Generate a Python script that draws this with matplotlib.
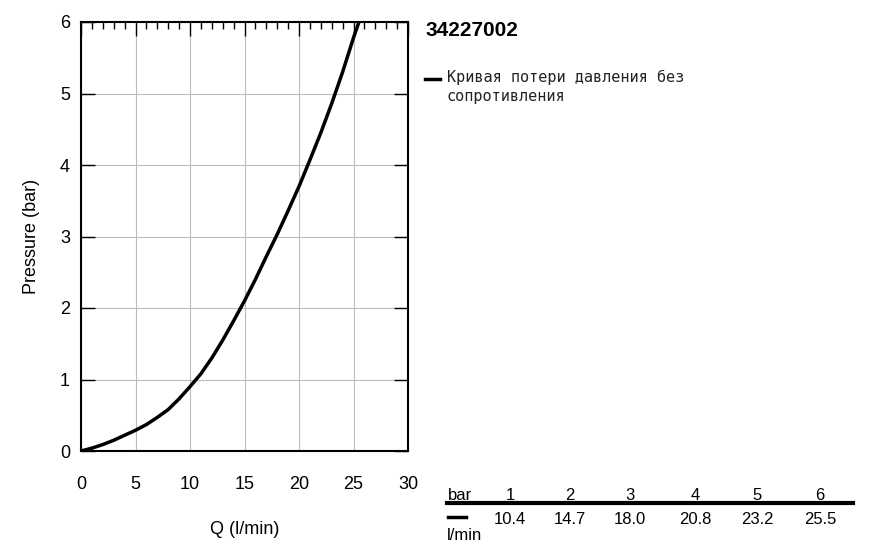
import numpy as np
import matplotlib.pyplot as plt
from matplotlib.ticker import MultipleLocator

plt.rcParams["font.family"] = ["Liberation Sans", "DejaVu Sans"]

# curve
flow = [0, 1, 2, 3, 4, 5, 6, 7, 8, 9, 10, 11, 12, 13, 14, 15, 16, 17, 18, 19,
        20, 21, 22, 23, 24, 25, 25.5]
pressure = [0, 0.04, 0.09, 0.15, 0.22, 0.29, 0.37, 0.47, 0.58, 0.73, 0.9, 1.08,
            1.3, 1.55, 1.82, 2.1, 2.4, 2.72, 3.03, 3.36, 3.7, 4.07, 4.45, 4.86,
            5.3, 5.78, 6.0]

table_bar = ["1", "2", "3", "4", "5", "6"]
table_flow = ["10.4", "14.7", "18.0", "20.8", "23.2", "25.5"]
title = "34227002"
legend_text = "Кривая потери давления без\nсопротивления"

W, H = 881, 556
fig = plt.figure(figsize=(W / 100, H / 100), dpi=100)
ax = fig.add_axes([81 / W, 1 - 451 / H, (408 - 81) / W, (451 - 22) / H])

ax.plot(flow, pressure, color="black", lw=2.5, solid_capstyle="butt")
ax.set_xlim(0, 30)
ax.set_ylim(0, 6)
ax.xaxis.set_major_locator(MultipleLocator(5))
ax.xaxis.set_minor_locator(MultipleLocator(1))
ax.yaxis.set_major_locator(MultipleLocator(1))
ax.grid(True, color="#bbbbbb", lw=0.8)
ax.tick_params(which="major", direction="in", length=10, width=1, top=True, right=True,
               labelsize=13, pad=8)
ax.tick_params(axis="x", which="major", bottom=False, pad=18)
ax.tick_params(which="minor", direction="in", length=5, width=1, top=True, bottom=False)
for s in ax.spines.values():
    s.set_linewidth(1.5)
ax.set_xlabel("Q (l/min)", fontsize=13, labelpad=20)
ax.set_ylabel("Pressure (bar)", fontsize=13, labelpad=14)

def fx(px):
    return px / W

def fy(py):
    return 1 - py / H

fig.text(fx(425), fy(31), title, fontsize=15, fontweight="bold", va="center")
fig.add_artist(plt.Line2D([fx(425), fx(440)], [fy(79), fy(79)], color="black", lw=2.5))
fig.text(fx(447), fy(70), legend_text, fontsize=11, va="top", family="DejaVu Sans Mono",
         linespacing=1.3, color="#222222")

fig.text(fx(448), fy(495), "bar", fontsize=12, va="center")
xs = [510, 570, 630, 695, 757, 820]
for x, b, f in zip(xs, table_bar, table_flow):
    fig.text(fx(x), fy(495), b, fontsize=12, va="center", ha="center")
    fig.text(fx(x), fy(520), f, fontsize=12, va="center", ha="center")
fig.add_artist(plt.Line2D([fx(447), fx(853)], [fy(503), fy(503)], color="black", lw=3))
fig.add_artist(plt.Line2D([fx(448), fx(466)], [fy(517), fy(517)], color="black", lw=2.5))
fig.text(fx(447), fy(535), "l/min", fontsize=12, va="center")

fig.savefig("out.png", dpi=100)
